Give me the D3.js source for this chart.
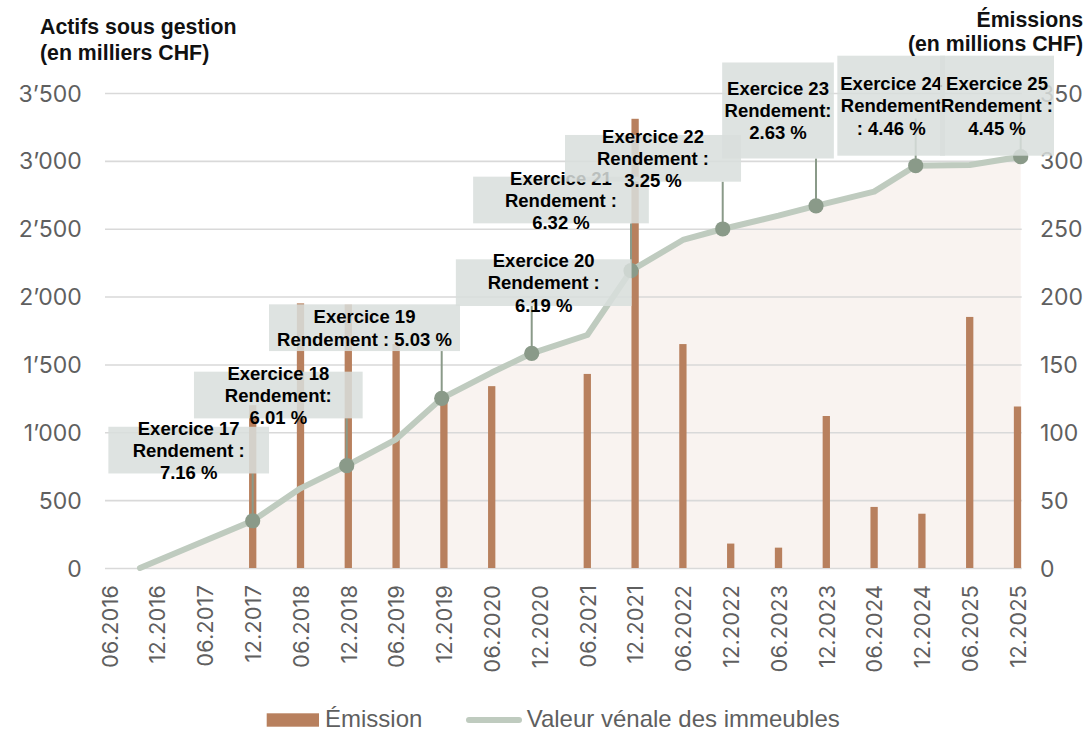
<!DOCTYPE html>
<html><head><meta charset="utf-8">
<script src="https://cdn.jsdelivr.net/npm/d3@7"></script>
<style>body{margin:0;background:#fff} svg{display:block}</style>
</head><body><svg id="c" width="1092" height="733"></svg>
<script>
// ---------------- DATA ----------------
const categories = ["06.2016","12.2016","06.2017","12.2017","06.2018","12.2018","06.2019","12.2019","06.2020","12.2020",
                    "06.2021","12.2021","06.2022","12.2022","06.2023","12.2023","06.2024","12.2024","06.2025","12.2025"];
// Émission (millions CHF, right axis), null = no issue
const emission = [null,null,null,120,195,194,165,125,134,null,143,331,165,18,15,112,45,40,185,119];
// Valeur vénale des immeubles: position in half-year periods since 06.2016 and value (left axis)
const lineT = [0.642,3.0,4,4.967,6,6.954,8,8.837,10,10.914,12,12.833,14,14.785,16,16.87,18,19.067];
const lineV = [0,348,587,754,948,1250,1440,1582,1717,2191,2417,2498,2596,2669,2773,2964,2969,3031];
const markerIdx = [1,3,5,7,9,11,13,15,17];
const labelLines = [
  ["Exercice 17","Rendement :","7.16 %"],
  ["Exercice 18","Rendement:","6.01 %"],
  ["Exercice 19","Rendement : 5.03 %"],
  ["Exercice 20","Rendement :","6.19 %"],
  ["Exercice 21","Rendement :","6.32 %"],
  ["Exercice 22","Rendement :","3.25 %"],
  ["Exercice 23","Rendement:","2.63 %"],
  ["Exercice 24","Rendement",": 4.46 %"],
  ["Exercice 25","Rendement :","4.45 %"]
];
const leftTicks = [0,500,1000,1500,2000,2500,3000,3500];
const rightTicks = [0,50,100,150,200,250,300,350];
const leftTitle = ["Actifs sous gestion","(en milliers CHF)"];
const rightTitle = ["Émissions","(en millions CHF)"];
const legendItems = ["Émission","Valeur vénale des immeubles"];

// ---------------- LAYOUT / STYLE ----------------
const boxLayout = [
  {dx:-64,  w:160.7, h:46.7}, {dx:-68.4, w:168.7, h:46.7}, {dx:-77.2, w:191, h:46.7},
  {dx:12,   w:175.7, h:46.7}, {dx:-70,   w:175.7, h:46.7}, {dx:-69.7, w:176, h:46.7},
  {dx:-38,  w:111.7, h:96},   {dx:-24.5, w:107.7, h:100},  {dx:-23.7, w:114, h:100}
];
const stemLen = 47.3, boxMinTop = 55.7, lineGap = 22.2;
const C = {bar:"#b8805e", line:"#bfcbbf", mark:"#8a9a89", area:"#f9f3f0", grid:"#d9d9d9",
           box:"#d9dedc", tick:"#5f5f5f", title:"#111"};
const TICKFONT = "Inter, 'Liberation Sans', Arial, sans-serif";
const TEXTFONT = "'Liberation Sans', Arial, Helvetica, sans-serif";
const gridX0 = 105, gridX1 = 1021.7, y0 = 568, yTop = 93;

const svg = d3.select("#c");
const x = d3.scalePoint().domain(categories).range([109.3, 1017.5]);
const xt = d3.scaleLinear().domain([0, categories.length-1]).range([109.3, 1017.5]);
const yL = d3.scaleLinear().domain([0,3500]).range([y0, yTop]);
const yR = d3.scaleLinear().domain([0,350]).range([y0, yTop]);
const fmt = v => d3.format(",")(v).replace(/,/g,"’");

const lineData = lineT.map((t,i)=>({t, v:lineV[i]}));

// area
svg.append("path").datum(lineData)
  .attr("d", d3.area().x(d=>xt(d.t)).y0(yL(0)).y1(d=>yL(d.v)))
  .attr("fill", C.area);

// left axis with grid
const gL = svg.append("g").attr("transform",`translate(${gridX0},0)`)
  .call(d3.axisLeft(yL).tickValues(leftTicks).tickFormat(fmt).tickSize(-(gridX1-gridX0)).tickPadding(23.3));
gL.select(".domain").remove();
gL.selectAll("line").attr("stroke", C.grid).attr("stroke-width",1.6);
gL.selectAll("text").attr("fill",C.tick).style("font-family",TICKFONT).style("font-size","23px").attr("dy","0.35em");

// bars
const bw = 7.3;
svg.append("g").selectAll("rect").data(categories.map((c,i)=>({c, v:emission[i]})).filter(d=>d.v!=null))
  .join("rect")
  .attr("x", d=>x(d.c)-bw/2).attr("width", bw)
  .attr("y", d=>yR(d.v)).attr("height", d=>yR(0)-yR(d.v))
  .attr("fill", C.bar);

// line
svg.append("path").datum(lineData)
  .attr("d", d3.line().x(d=>xt(d.t)).y(d=>yL(d.v)))
  .attr("fill","none").attr("stroke",C.line).attr("stroke-width",6)
  .attr("stroke-linejoin","round").attr("stroke-linecap","round");

// right axis
const gR = svg.append("g").attr("transform",`translate(${gridX1},0)`)
  .call(d3.axisRight(yR).tickValues(rightTicks).tickSize(0).tickPadding(18.3));
gR.select(".domain").remove();
gR.selectAll("text").attr("fill",C.tick).style("font-family",TICKFONT).style("font-size","23px").attr("dy","0.35em");

// x axis
const gX = svg.append("g").attr("transform",`translate(0,${y0})`)
  .call(d3.axisBottom(x).tickSize(0));
gX.select(".domain").remove();
gX.selectAll("text").attr("transform","rotate(-90)").attr("text-anchor","end")
  .attr("x",-17).attr("y",0).attr("dy","0.35em")
  .attr("fill",C.tick).style("font-family",TICKFONT).style("font-size","22px");

// markers, stems
const marks = markerIdx.map((k,i)=>({px:xt(lineT[k]), py:yL(lineV[k]), lines:labelLines[i], L:boxLayout[i]}));
svg.append("g").selectAll("line").data(marks).join("line")
  .attr("x1",d=>d.px).attr("x2",d=>d.px).attr("y1",d=>d.py).attr("y2",d=>d.py-stemLen)
  .attr("stroke",C.mark).attr("stroke-width",2);
svg.append("g").selectAll("circle").data(marks).join("circle")
  .attr("cx",d=>d.px).attr("cy",d=>d.py).attr("r",7.6).attr("fill",C.mark);

// label boxes
marks.forEach(d=>{
  const bottom = d.py - stemLen;
  const top = Math.max(bottom - d.L.h, boxMinTop);
  const cx = d.px + d.L.dx, cy = top + d.L.h/2;
  const g = svg.append("g");
  g.append("rect").attr("x",cx-d.L.w/2).attr("y",top).attr("width",d.L.w).attr("height",d.L.h)
    .attr("fill",C.box).attr("fill-opacity",0.86);
  const n = d.lines.length;
  g.selectAll("text").data(d.lines).join("text")
    .attr("x",cx).attr("y",(t,i)=>cy+6.7+(i-(n-1)/2)*lineGap)
    .attr("text-anchor","middle").attr("fill","#000")
    .style("font-family",TEXTFONT).style("font-weight","bold").style("font-size","18.5px")
    .text(t=>t);
});

// titles
svg.append("g").selectAll("text").data(leftTitle).join("text")
  .attr("x",40).attr("y",(t,i)=>33.5+i*26.5).attr("fill",C.title)
  .style("font-family",TEXTFONT).style("font-weight","bold").style("font-size","21.3px")
  .text(t=>t);
svg.append("g").selectAll("text").data(rightTitle).join("text")
  .attr("x",1083).attr("y",(t,i)=>27+i*23.5).attr("text-anchor","end").attr("fill",C.title)
  .style("font-family",TEXTFONT).style("font-weight","bold").style("font-size","21.3px")
  .text(t=>t);

// legend
const lg = svg.append("g");
lg.append("rect").attr("x",266.7).attr("y",713.3).attr("width",52.3).attr("height",13.4).attr("fill",C.bar);
lg.append("text").attr("x",325).attr("y",727).text(legendItems[0]);
lg.append("line").attr("x1",469).attr("x2",519).attr("y1",720).attr("y2",720)
  .attr("stroke",C.line).attr("stroke-width",6).attr("stroke-linecap","round");
lg.append("text").attr("x",526.7).attr("y",727).text(legendItems[1]);
lg.selectAll("text").attr("fill",C.tick).style("font-family",TEXTFONT).style("font-size","24px");
</script></body></html>
